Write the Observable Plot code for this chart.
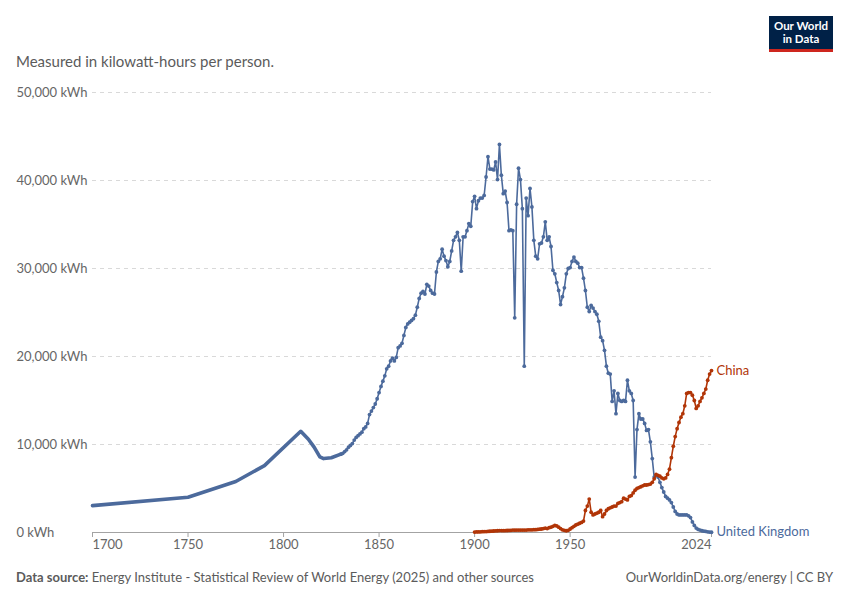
<!DOCTYPE html>
<html>
<head>
<meta charset="utf-8">
<script src="https://cdn.jsdelivr.net/npm/d3@7"></script>
<script src="https://cdn.jsdelivr.net/npm/@observablehq/plot@0.6"></script>
<style>
  body { margin: 0; background: #fff; font-family: Lato, "Noto Sans", sans-serif; }
  #wrap { position: relative; width: 850px; height: 600px; overflow: hidden; background: #fff; }
  #subtitle { position: absolute; left: 16px; top: 51px; font-size: 15px; line-height: 20px; color: #5b5b5b; white-space: nowrap; }
  #logo { position: absolute; left: 769px; top: 16px; width: 64px; height: 29px; padding-top: 4px; background: #002147; border-bottom: 3px solid #ce261e; color: #fff; font-size: 11.5px; font-weight: 700; line-height: 12.5px; text-align: center; box-sizing: content-box; }
  #chart { position: absolute; left: 0; top: 80px; }
  #source { position: absolute; left: 16px; top: 568px; font-size: 13px; line-height: 18px; color: #5b5b5b; white-space: nowrap; }
  #source b { font-weight: 700; }
  #credit { position: absolute; right: 17px; top: 568px; font-size: 13px; line-height: 18px; color: #5b5b5b; white-space: nowrap; }
</style>
</head>
<body>
<div id="wrap">
  <div id="subtitle">Measured in kilowatt-hours per person.</div>
  <div id="logo">Our World<br>in Data</div>
  <div id="chart"></div>
  <div id="source"><b>Data source:</b> Energy Institute - Statistical Review of World Energy (2025) and other sources</div>
  <div id="credit">OurWorldinData.org/energy | CC BY</div>
</div>
<script>
// ---- Data (kWh per person) ----
const seriesNames = ["United Kingdom", "China"];
const ukColor = "#4C6A9C";
const chinaColor = "#B13507";

// UK, early sparse readings (1700–1830)
const ukEarlyYears  = [1700, 1750, 1775, 1790, 1809, 1813, 1816, 1819, 1821, 1825, 1830];
const ukEarlyValues = [3050, 4000, 5800, 7600, 11500, 10600, 9700, 8600, 8400, 8500, 8900];

// UK annual readings 1830–2024 (thousand kWh)
const ukAnnualStart = 1830;
const ukAnnualValues = [
  8.9, 9.0, 9.2, 9.4, 9.7, 9.9, 10.1, 10.5, 10.8, 11.0,
  11.2, 11.4, 11.8, 12.0, 12.4, 13.4, 13.8, 14.2, 14.6, 15.2,
  15.9, 16.6, 17.2, 17.8, 18.6, 18.9, 19.5, 19.8, 19.5, 19.9,
  21.0, 21.2, 21.5, 22.4, 23.3, 23.7, 23.9, 24.1, 24.3, 24.7,
  25.6, 26.6, 27.2, 27.4, 27.1, 28.2, 28.0, 27.5, 27.2, 27.1,
  29.6, 30.8, 31.1, 32.2, 31.4, 30.9, 30.2, 30.8, 32.0, 33.2,
  33.6, 34.1, 33.2, 29.7, 33.6, 33.6, 34.3, 35.1, 34.8, 37.6,
  38.2, 36.8, 37.7, 38.0, 38.0, 38.3, 40.4, 42.7, 41.3, 41.3,
  41.2, 42.1, 40.1, 44.1, 40.6, 38.5, 38.8, 37.5, 34.3, 34.4,
  34.3, 24.4, 37.3, 41.4, 40.1, 36.8, 18.9, 38.0, 36.0, 39.1,
  37.0, 33.2, 31.4, 31.1, 32.8, 32.9, 33.6, 35.3, 33.2, 33.6,
  32.5, 29.8, 29.4, 28.4, 27.5, 25.9, 26.8, 27.8, 29.4, 30.0,
  30.1, 30.8, 31.3, 30.8, 30.6, 30.1, 30.1, 28.9, 27.5, 25.6,
  25.1, 25.8, 25.5, 25.1, 24.8, 24.0, 22.2, 21.8, 20.7, 18.9,
  18.1, 18.0, 14.9, 16.1, 13.5, 15.8, 15.0, 14.9, 15.0, 14.9,
  17.3, 16.1, 15.8, 15.0, 6.3, 11.7, 13.5, 12.9, 12.9, 12.4,
  11.6, 11.7, 10.3, 8.4, 6.3, 6.5, 6.3, 5.7, 5.1, 4.6,
  4.1, 3.9, 3.7, 3.4, 2.9, 2.4, 2.1, 2.0, 2.0, 2.0,
  2.0, 2.0, 1.9, 1.7, 1.2, 0.8, 0.5, 0.35, 0.27, 0.2,
  0.15, 0.12, 0.08, 0.05, 0.03
];

// China annual readings 1900–2024 (thousand kWh)
const chinaStart = 1900;
const chinaValues = [
  0.05, 0.06, 0.07, 0.08, 0.09, 0.10, 0.11, 0.12, 0.14, 0.15,
  0.17, 0.19, 0.20, 0.22, 0.22, 0.21, 0.22, 0.23, 0.24, 0.25,
  0.27, 0.26, 0.27, 0.27, 0.28, 0.28, 0.27, 0.28, 0.30, 0.30,
  0.30, 0.32, 0.32, 0.35, 0.38, 0.40, 0.45, 0.50, 0.45, 0.55,
  0.60, 0.70, 0.80, 0.75, 0.60, 0.45, 0.30, 0.25, 0.20, 0.25,
  0.40, 0.55, 0.70, 0.85, 0.95, 1.05, 1.15, 1.30, 2.50, 3.00,
  3.80, 2.30, 2.00, 2.10, 2.20, 2.30, 2.50, 1.80, 2.10, 2.50,
  2.70, 2.80, 2.90, 3.00, 3.00, 3.30, 3.40, 3.50, 3.90, 3.80,
  3.70, 4.10, 4.20, 4.50, 4.80, 5.00, 5.10, 5.20, 5.30, 5.40,
  5.40, 5.45, 5.50, 5.70, 6.10, 6.60, 6.50, 6.40, 6.20, 6.10,
  6.20, 6.60, 7.20, 8.50, 9.80, 10.90, 11.80, 12.50, 13.10, 13.50,
  14.40, 15.80, 15.90, 15.90, 15.60, 15.00, 14.10, 14.40, 14.90, 15.30,
  15.80, 16.30, 17.30, 18.00, 18.40
];

const xTicks = [1700, 1750, 1800, 1850, 1900, 1950, 2024];
const yTicks = [0, 10000, 20000, 30000, 40000, 50000];

// ---- Build tables ----
const ukEarly = ukEarlyYears.map((year, i) => ({year, value: ukEarlyValues[i]}));
const ukAnnual = ukAnnualValues.map((v, i) => ({year: ukAnnualStart + i, value: v * 1000}));
const china = chinaValues.map((v, i) => ({year: chinaStart + i, value: v * 1000}));
const labels = [
  {name: seriesNames[0], ...ukAnnual[ukAnnual.length - 1], color: ukColor},
  {name: seriesNames[1], ...china[china.length - 1], color: chinaColor}
];
const fmt = d3.format(",");

const chart = Plot.plot({
  width: 850,
  height: 485,
  marginTop: 12,
  marginBottom: 33,
  marginLeft: 92,
  marginRight: 139,
  x: {domain: [1700, 2024], axis: null},
  y: {domain: [0, 50000], axis: null},
  style: {fontFamily: "Lato, 'Noto Sans', sans-serif", fontSize: "13px", background: "transparent", overflow: "visible"},
  marks: [
    Plot.gridY(yTicks.filter(d => d > 0), {stroke: "#d9d9d9", strokeOpacity: 1, strokeDasharray: "4,4"}),
    Plot.ruleY([0], {stroke: "#a3a3a3"}),
    Plot.ruleX(xTicks, {x: d => d, y1: 0, y2: 0, insetBottom: -5, stroke: "#a3a3a3"}),
    Plot.text(xTicks.slice(1, -1), {x: d => d, frameAnchor: "bottom", dy: 16, text: d => String(d), fill: "#666"}),
    Plot.text(xTicks.slice(0, 1), {x: d => d, frameAnchor: "bottom", dy: 16, text: d => String(d), fill: "#666", textAnchor: "start"}),
    Plot.text(xTicks.slice(-1), {x: d => d, frameAnchor: "bottom", dy: 16, text: d => String(d), fill: "#666", textAnchor: "end"}),
    Plot.text(yTicks, {y: d => d, frameAnchor: "left", dx: -76, textAnchor: "start", text: d => fmt(d) + " kWh", fill: "#666"}),
    Plot.line(ukEarly, {x: "year", y: "value", stroke: ukColor, strokeWidth: 3.6}),
    Plot.line(ukAnnual, {x: "year", y: "value", stroke: ukColor, strokeWidth: 1.6}),
    Plot.dot(ukAnnual, {x: "year", y: "value", r: 1.9, fill: ukColor}),
    Plot.line(china, {x: "year", y: "value", stroke: chinaColor, strokeWidth: 1.6}),
    Plot.dot(china, {x: "year", y: "value", r: 1.9, fill: chinaColor}),
    Plot.text(labels, {x: "year", y: "value", text: "name", fill: "color", dx: 5, textAnchor: "start", fontSize: 13})
  ]
});
document.getElementById("chart").appendChild(chart);
</script>
</body>
</html>
